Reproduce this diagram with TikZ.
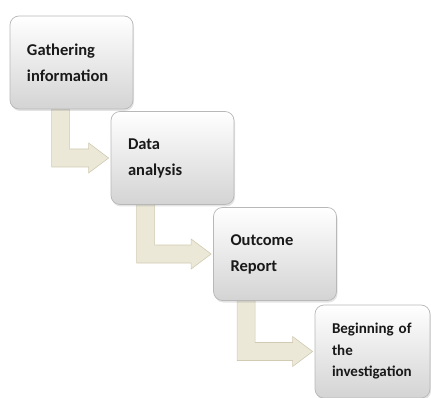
\documentclass[tikz,border=0pt]{standalone}
\usepackage{fontspec}
\setmainfont{Carlito}
\usetikzlibrary{calc,shadows,backgrounds}
\definecolor{tanfill}{HTML}{EBE8D8}
\definecolor{tanedge}{HTML}{D0CBB2}
\definecolor{boxedge}{HTML}{B8B8B8}
\tikzset{
    stepbox/.style={rounded corners=9pt, draw=boxedge, line width=0.7pt,
        top color=white, middle color=black!4, bottom color=black!17,
        drop shadow={opacity=0.22, shadow xshift=1pt, shadow yshift=-2pt},
        align=left, text width=89pt, inner xsep=17pt, minimum height=93pt,
        font=\fontsize{16.5}{26}\selectfont\bfseries, text=black!90},
    bentarrow/.style={fill=tanfill, draw=tanedge, line width=0.6pt, line join=miter}
}
\begin{document}
\begin{tikzpicture}[x=1pt,y=1pt]
    \useasboundingbox (0,0) rectangle (431,-398);
    \node[stepbox] (gather) at (71.5,-62.5) {Gathering\\information};
    \node[stepbox] (data) at (172.5,-158) {Data\\analysis};
    \node[stepbox] (outcome) at (275,-254) {Outcome\\Report};
    \node[stepbox, text width=81pt, font=\fontsize{15}{21.5}\selectfont\bfseries] (begin) at (372.5,-351.5) {Beginning of\\the\\investigation};
    % bent arrows from one step to the next
    \begin{pgfonlayer}{background}
    \foreach \s/\t/\o in {gather/data/42pt, data/outcome/26pt, outcome/begin/24pt}
        \draw[bentarrow] let \p1 = (\s.south west), \p2 = ($(\t.west)+(-2,0)$) in
            (\x1+\o,\y1) -- (\x1+\o+18pt,\y1) -- (\x1+\o+18pt,\y2+9pt)
            -- (\x2-20pt,\y2+9pt) -- (\x2-20pt,\y2+15pt) -- (\x2,\y2)
            -- (\x2-20pt,\y2-15pt) -- (\x2-20pt,\y2-9pt) -- (\x1+\o,\y2-9pt) -- cycle;
    \end{pgfonlayer}
\end{tikzpicture}
\end{document}
